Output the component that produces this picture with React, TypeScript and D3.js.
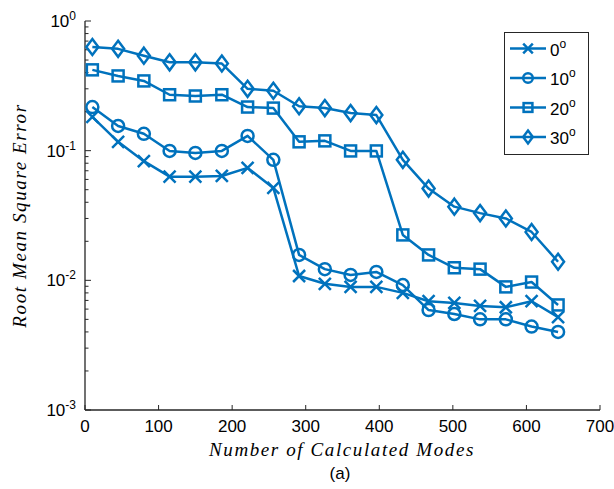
import React, { useEffect, useRef } from 'react';
import * as d3 from 'd3';

// number of calculated modes (x positions of markers)
const modes = [10, 45, 80, 115, 150, 186, 221, 256, 291, 326, 361, 396, 432, 467, 502, 537, 572, 607, 643];

const rms0 = [0.182, 0.117, 0.083, 0.063, 0.063, 0.0638, 0.0736, 0.0516, 0.0108, 0.0094, 0.0089, 0.0089, 0.008, 0.0069, 0.0067, 0.00635, 0.0062, 0.0069, 0.0052];
const rms10 = [0.217, 0.155, 0.135, 0.0995, 0.096, 0.0995, 0.13, 0.085, 0.0157, 0.0122, 0.011, 0.0116, 0.0092, 0.0059, 0.0055, 0.005, 0.005, 0.0044, 0.004];
const rms20 = [0.42, 0.377, 0.345, 0.27, 0.264, 0.27, 0.217, 0.213, 0.117, 0.119, 0.0995, 0.0995, 0.0224, 0.0157, 0.0125, 0.0122, 0.0089, 0.0097, 0.00646];
const rms30 = [0.63, 0.61, 0.54, 0.48, 0.48, 0.47, 0.3, 0.29, 0.22, 0.213, 0.195, 0.188, 0.085, 0.051, 0.037, 0.033, 0.03, 0.0236, 0.0139];

const seriesNames = ['0', '10', '20', '30'];
const markers = ['x', 'o', 's', 'd'];
const xTicks = [0, 100, 200, 300, 400, 500, 600, 700];
const yDecades = [-3, -2, -1, 0];

const color = '#0072BD';
const axisColor = '#262626';

function drawMarker(g: any, kind: string, cx: number, cy: number, s = 1) {
  if (kind === 'x') {
    const r = 6 * s;
    g.append('path')
      .attr('d', `M${cx - r},${cy - r}L${cx + r},${cy + r}M${cx - r},${cy + r}L${cx + r},${cy - r}`)
      .attr('stroke', color).attr('stroke-width', 2.5).attr('fill', 'none');
  } else if (kind === 'o') {
    g.append('circle').attr('cx', cx).attr('cy', cy).attr('r', 6 * s)
      .attr('stroke', color).attr('stroke-width', 2.5).attr('fill', 'none');
  } else if (kind === 's') {
    const h = 5.5 * s;
    g.append('rect').attr('x', cx - h).attr('y', cy - h).attr('width', 2 * h).attr('height', 2 * h)
      .attr('stroke', color).attr('stroke-width', 2.5).attr('fill', 'none');
  } else {
    const r = 8 * s, w = 6 * s;
    g.append('path')
      .attr('d', `M${cx},${cy - r}L${cx + w},${cy}L${cx},${cy + r}L${cx - w},${cy}Z`)
      .attr('stroke', color).attr('stroke-width', 2.5).attr('fill', 'none');
  }
}

export default function App() {
  const ref = useRef<SVGSVGElement>(null);

  useEffect(() => {
    const svg = d3.select(ref.current);
    svg.selectAll('*').remove();

    const left = 85, right = 600, top = 21, bottom = 410;

    const x = d3.scaleLinear().domain([0, 700]).range([left, right]);
    const y = d3.scaleLog().domain([1e-3, 1]).range([bottom, top]);

    const axes = svg.append('g');
    axes.append('line').attr('x1', left).attr('x2', left).attr('y1', top).attr('y2', bottom)
      .attr('stroke', axisColor).attr('stroke-width', 1.3);
    axes.append('line').attr('x1', left).attr('x2', right).attr('y1', bottom).attr('y2', bottom)
      .attr('stroke', axisColor).attr('stroke-width', 1.3);

    // x ticks (inward)
    xTicks.forEach(t => {
      axes.append('line').attr('x1', x(t)).attr('x2', x(t)).attr('y1', bottom).attr('y2', bottom - 5)
        .attr('stroke', axisColor).attr('stroke-width', 1);
      axes.append('text').attr('x', x(t)).attr('y', bottom + 22)
        .attr('text-anchor', 'middle')
        .style('font-family', 'Liberation Sans, Arial, sans-serif').style('font-size', '17px')
        .attr('fill', '#000').text(t);
    });

    // y ticks: major + minor
    yDecades.forEach(p => {
      const v = Math.pow(10, p);
      axes.append('line').attr('x1', left).attr('x2', left + 6).attr('y1', y(v)).attr('y2', y(v))
        .attr('stroke', axisColor).attr('stroke-width', 1);
      const txt = axes.append('text').attr('x', left - 9).attr('y', y(v) + 6)
        .attr('text-anchor', 'end')
        .style('font-family', 'Liberation Sans, Arial, sans-serif').style('font-size', '17px')
        .attr('fill', '#000');
      txt.append('tspan').text('10');
      txt.append('tspan').attr('dy', -7).style('font-size', '12px').text(String(p));
      if (p < 0) {
        for (let k = 2; k <= 9; k++) {
          const mv = k * v;
          axes.append('line').attr('x1', left).attr('x2', left + 3.5).attr('y1', y(mv)).attr('y2', y(mv))
            .attr('stroke', axisColor).attr('stroke-width', 1);
        }
      }
    });

    // series
    const allSeries = [rms0, rms10, rms20, rms30];
    const line = d3.line<number>()
      .x((_, i) => x(modes[i]))
      .y(d => y(d));

    allSeries.forEach((vals, si) => {
      const g = svg.append('g');
      g.append('path').attr('d', line(vals) as string)
        .attr('fill', 'none').attr('stroke', color).attr('stroke-width', 2.5)
        .attr('stroke-linejoin', 'round');
      vals.forEach((v, i) => drawMarker(g, markers[si], x(modes[i]), y(v)));
    });

    // legend
    const lg = svg.append('g');
    lg.append('rect').attr('x', 504.5).attr('y', 32.5).attr('width', 84).attr('height', 122)
      .attr('fill', '#fff').attr('stroke', axisColor).attr('stroke-width', 1);
    seriesNames.forEach((name, i) => {
      const cy = 48.5 + i * 29.5;
      lg.append('line').attr('x1', 510).attr('x2', 546).attr('y1', cy).attr('y2', cy)
        .attr('stroke', color).attr('stroke-width', 2.5);
      drawMarker(lg, markers[i], 528, cy, 0.8);
      const t = lg.append('text').attr('x', 550).attr('y', cy + 7)
        .style('font-family', 'Liberation Sans, Arial, sans-serif').style('font-size', '17px')
        .attr('fill', '#000');
      t.append('tspan').text(name);
      t.append('tspan').attr('dy', -8).style('font-size', '12px').text('o');
    });

    // axis labels
    svg.append('text').attr('x', 342).attr('y', 456)
      .attr('text-anchor', 'middle')
      .style('font-family', 'Liberation Serif, Times New Roman, serif').style('font-style', 'italic')
      .style('font-size', '19px').attr('fill', '#000')
      .attr('letter-spacing', '1.6px')
      .text('Number of Calculated Modes');
    svg.append('text').attr('x', 340).attr('y', 479)
      .attr('text-anchor', 'middle')
      .style('font-family', 'Liberation Sans, Arial, sans-serif')
      .style('font-size', '17px').attr('fill', '#000')
      .text('(a)');
    svg.append('text')
      .attr('transform', `translate(26,${(top + bottom) / 2}) rotate(-90)`)
      .attr('text-anchor', 'middle')
      .style('font-family', 'Liberation Serif, Times New Roman, serif').style('font-style', 'italic')
      .style('font-size', '19px').attr('fill', '#000')
      .attr('letter-spacing', '1.6px')
      .text('Root Mean Square Error');
  }, []);

  return (
    <svg ref={ref} width={614} height={489}
      style={{ position: 'absolute', left: 0, top: 0, background: '#fff' }} />
  );
}
